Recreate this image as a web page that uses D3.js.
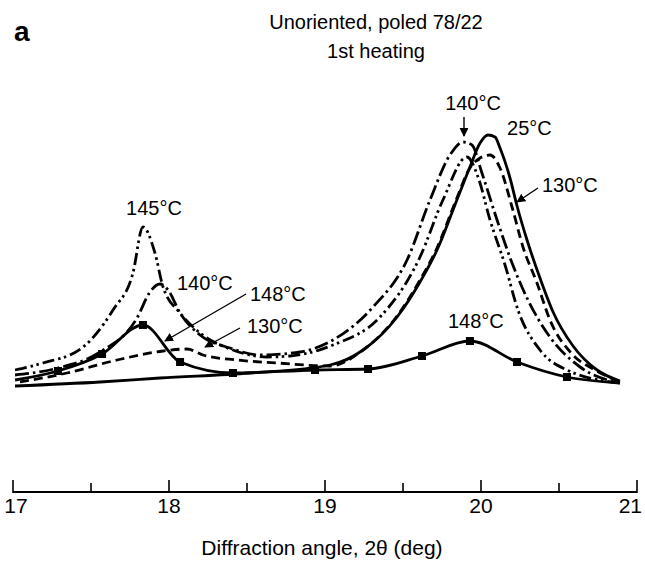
<!DOCTYPE html>
<html>
<head>
<meta charset="utf-8">
<script src="https://cdn.jsdelivr.net/npm/d3@7"></script>
<style>
  body { margin: 0; background: #fff; }
  text { font-family: "Liberation Sans", Arial, sans-serif; fill: #000; }
</style>
</head>
<body>
<div id="chart"></div>
<script>
// 2theta (deg) and intensity (arbitrary units)
const theta25 = [17.013, 17.558, 17.942, 18.519, 19.032, 19.244, 19.462, 19.609, 19.718, 19.833, 19.929, 19.994, 20.045, 20.090, 20.122, 20.186, 20.231, 20.295, 20.378, 20.462, 20.590, 20.744, 20.891];
const int25   = [14, 18, 22, 27, 35, 50, 83, 118, 150, 195, 233, 257, 265, 263, 252, 222, 194, 160, 122, 88, 54, 30, 19];

const theta130 = [17.045, 17.346, 17.667, 17.962, 18.115, 18.218, 18.436, 18.692, 19.032, 19.244, 19.462, 19.609, 19.718, 19.833, 19.929, 19.994, 20.058, 20.122, 20.199, 20.269, 20.359, 20.442, 20.590, 20.731, 20.891];
const int130   = [18, 27, 40, 49, 51, 45, 40, 37, 34, 50, 84, 120, 152, 197, 232, 242, 245, 232, 193, 153, 117, 80, 45, 30, 18];

const theta140 = [17.013, 17.288, 17.558, 17.795, 17.878, 17.942, 17.994, 18.071, 18.199, 18.391, 18.583, 18.840, 19.051, 19.308, 19.526, 19.673, 19.801, 19.885, 19.942, 20.006, 20.103, 20.199, 20.301, 20.442, 20.635, 20.891];
const int140   = [25, 32, 48, 82, 108, 116, 110, 87, 65, 52, 45, 48, 60, 93, 140, 200, 245, 258, 255, 227, 180, 137, 100, 63, 33, 17];

const theta145 = [17.013, 17.192, 17.442, 17.641, 17.769, 17.833, 17.910, 17.962, 18.071, 18.199, 18.410, 18.628, 18.776, 19.051, 19.353, 19.609, 19.756, 19.910, 19.981, 20.058, 20.154, 20.237, 20.378, 20.551, 20.891];
const int145   = [30, 37, 52, 90, 127, 173, 147, 113, 87, 67, 50, 43, 44, 55, 83, 143, 200, 243, 223, 180, 135, 90, 50, 30, 17];

const theta148 = [17.013, 17.288, 17.571, 17.833, 18.071, 18.410, 18.936, 19.276, 19.622, 19.929, 20.231, 20.551, 20.891];
const int148   = [20, 29, 46, 75, 38, 27, 30, 31, 44, 59, 38, 23, 17];

const xTicks = [17, 17.5, 18, 18.5, 19, 19.5, 20, 20.5, 21];
const xTickLabels = ["17", "", "18", "", "19", "", "20", "", "21"];

// curve labels: text, theta, intensity, anchor
const labelText   = ["145°C", "140°C", "148°C", "130°C", "140°C", "25°C", "130°C", "148°C"];
const labelTheta  = [17.904, 18.051, 18.519, 18.500, 19.949, 20.167, 20.391, 19.788];
const labelInt    = [185, 110, 99, 67, 290, 265, 208, 72];
const labelAnchor = ["middle", "start", "start", "start", "middle", "start", "start", "start"];

// pointer lines: from (theta, int) to (theta, int)
const ptrFromTheta = [18.494, 18.455, 20.365, 19.891];
const ptrFromInt   = [106, 72, 212, 283];
const ptrToTheta   = [17.974, 18.231, 20.231, 19.891];
const ptrToInt     = [59, 53, 198, 264];

const series = [
  { name: "25",  th: theta25,  v: int25,  dash: null },
  { name: "130", th: theta130, v: int130, dash: "9,5" },
  { name: "140", th: theta140, v: int140, dash: "14,4,2.5,4" },
  { name: "145", th: theta145, v: int145, dash: "12,4,2.5,3.5,2.5,4" },
  { name: "148", th: theta148, v: int148, dash: null, squares: true }
];

const W = 645, H = 562;
const svg = d3.select("#chart").append("svg")
  .attr("width", W).attr("height", H);

const x = d3.scaleLinear().domain([17, 21]).range([13, 637]);
const y = d3.scaleLinear().domain([0, 270]).range([400, 130]);

const line = d3.line()
  .x(d => x(d[0]))
  .y(d => y(d[1]))
  .curve(d3.curveMonotoneX);

series.forEach(function(s) {
  const pts = s.th.map((t, i) => [t, s.v[i]]);
  svg.append("path")
    .datum(pts)
    .attr("d", line)
    .attr("fill", "none")
    .attr("stroke", "#000")
    .attr("stroke-width", 2.8)
    .attr("stroke-dasharray", s.dash);
  if (s.squares) {
    svg.selectAll(".sq")
      .data(pts.slice(1, -1))
      .enter().append("rect")
      .attr("x", d => x(d[0]) - 4)
      .attr("y", d => y(d[1]) - 4)
      .attr("width", 8).attr("height", 8)
      .attr("fill", "#000");
  }
});

// arrow head
svg.append("defs").append("marker")
  .attr("id", "head")
  .attr("viewBox", "0 0 10 10")
  .attr("refX", 9).attr("refY", 5)
  .attr("markerWidth", 9).attr("markerHeight", 9)
  .attr("markerUnits", "userSpaceOnUse")
  .attr("orient", "auto")
  .append("path").attr("d", "M0,0L10,5L0,10Z").attr("fill", "#000");

ptrFromTheta.forEach(function(t, i) {
  svg.append("line")
    .attr("x1", x(t)).attr("y1", y(ptrFromInt[i]))
    .attr("x2", x(ptrToTheta[i])).attr("y2", y(ptrToInt[i]))
    .attr("stroke", "#000").attr("stroke-width", 1.4)
    .attr("marker-end", "url(#head)");
});

labelText.forEach(function(t, i) {
  svg.append("text")
    .attr("x", x(labelTheta[i]))
    .attr("y", y(labelInt[i]))
    .attr("text-anchor", labelAnchor[i])
    .style("font-size", "20px")
    .text(t);
});

// x axis, ticks pointing up
const axisY = 492;
const axis = svg.append("g").attr("transform", "translate(0," + axisY + ")");
axis.append("line")
  .attr("x1", x(17)).attr("x2", x(21))
  .attr("stroke", "#000").attr("stroke-width", 2);
axis.selectAll(".tk")
  .data(xTicks)
  .enter().append("line")
  .attr("x1", d => x(d)).attr("x2", d => x(d))
  .attr("y1", 1)
  .attr("y2", (d, i) => xTickLabels[i] ? -12 : -9)
  .attr("stroke", "#000").attr("stroke-width", 1.6);
axis.selectAll(".tl")
  .data(xTicks)
  .enter().append("text")
  .attr("x", (d, i) => i === xTicks.length - 1 ? x(d) + 5 : x(d) + (i === 0 ? 3 : 0))
  .attr("y", 21)
  .attr("text-anchor", (d, i) => i === xTicks.length - 1 ? "end" : "middle")
  .style("font-size", "21px")
  .text((d, i) => xTickLabels[i]);

svg.append("text")
  .attr("x", 322).attr("y", 555)
  .attr("text-anchor", "middle")
  .style("font-size", "21px")
  .text("Diffraction angle, 2θ (deg)");

svg.append("text")
  .attr("x", 376).attr("y", 29)
  .attr("text-anchor", "middle")
  .style("font-size", "20px")
  .text("Unoriented, poled  78/22");
svg.append("text")
  .attr("x", 376).attr("y", 58)
  .attr("text-anchor", "middle")
  .style("font-size", "20px")
  .text("1st heating");

svg.append("text")
  .attr("x", 14).attr("y", 41)
  .style("font-size", "28px")
  .style("font-weight", "bold")
  .text("a");
</script>
</body>
</html>
